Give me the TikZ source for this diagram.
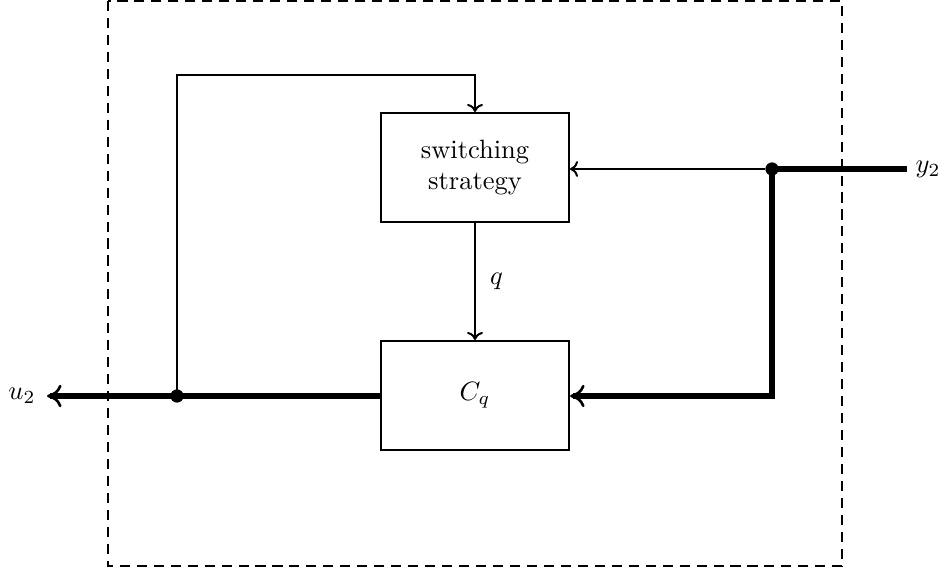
\documentclass[tikz,border=0pt]{standalone}
\usetikzlibrary{arrows.meta}
\begin{document}
\begin{tikzpicture}[x=0.01326cm,y=-0.01326cm,
  blk/.style={draw,line width=0.8pt,minimum width=188*0.01326cm,minimum height=109*0.01326cm,inner sep=0pt,align=center},
  thin/.style={line width=0.75pt},
  thick/.style={line width=2.3pt},
  tip/.style={-{To[length=3pt,width=6pt]}},
  bigtip/.style={-{To[length=5.5pt,width=8.5pt,line width=1pt]}},
  junction/.style={circle,fill,inner sep=0pt,minimum size=5pt},
  frame/.style={line width=0.9pt,dash pattern=on 3.8pt off 2.6pt}]
\useasboundingbox (0,0) rectangle (940,572);
% enclosing controller boundary
\draw[frame] (108,1) rectangle (842,566);
% blocks
\node[blk] (sw) at (475,167.5) {switching\\strategy};
\node[blk] (cq) at (475,395.5) {$C_q$};
% junction points
\node[junction] (jl) at (177,396) {};
\node[junction] (jr) at (772,169) {};
\coordinate (uout) at (47,396);
\coordinate (yin) at (907,169);
\coordinate (top) at (177,75);
\node (u) at (22,396) {$u_2$};
\node (y) at (928,169) {$y_2$};
% measured output entering
\draw[thick] (yin) -- (jr.center);
\draw[thin,tip] (jr) -- (sw.east |- jr);
\draw[thick,bigtip] (jr.center) |- (cq.east |- jl);
% control output
\draw[thick] (cq.west |- jl) -- (jl.center);
\draw[thick,bigtip] (jl.center) -- (uout);
\draw[thin,tip] (jl.center) -- (top) -| (sw.north);
% mode signal
\draw[thin,tip] (sw.south) -- node[right,xshift=2pt] {$q$} (cq.north);
\end{tikzpicture}
\end{document}
